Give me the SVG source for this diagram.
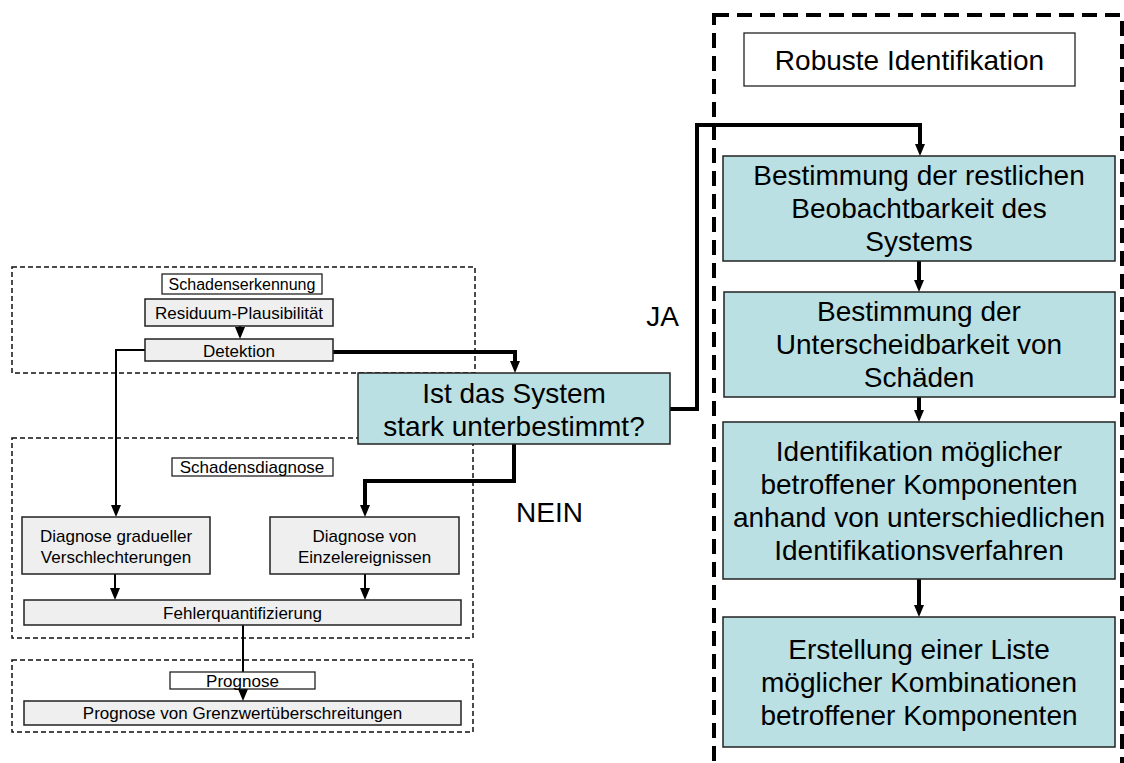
<svg xmlns="http://www.w3.org/2000/svg" width="1124" height="763" viewBox="0 0 1124 763">
<defs>
<style>
.grp{fill:none;stroke:#111;stroke-width:1.5;stroke-dasharray:5 3}
.big{fill:none;stroke:#000;stroke-width:4;stroke-dasharray:15 8}
.lbl{fill:#fff;stroke:#222;stroke-width:1.3}
.gray{fill:#efefef;stroke:#222;stroke-width:1.5}
.teal{fill:#bbe0e3;stroke:#222;stroke-width:1.5}
.t{font-family:"Liberation Sans",Arial,sans-serif;fill:#000;text-anchor:middle}
.s16{font-size:16px}.s17{font-size:17px}.s28{font-size:28px}
.thin{fill:none;stroke:#000;stroke-width:2}
.thick{fill:none;stroke:#000;stroke-width:4;stroke-linejoin:miter}
</style>
<marker id="ah" markerUnits="userSpaceOnUse" markerWidth="12" markerHeight="10" refX="2" refY="5" orient="auto">
<path d="M0,0 L12,5 L0,10 z" fill="#000"/>
</marker>
</defs>
<rect width="1124" height="763" fill="#fff"/>
<g id="groups">
<rect class="grp" x="12" y="267" width="463" height="106"/>
<rect class="grp" x="12" y="438" width="461" height="200"/>
<rect class="grp" x="12" y="660" width="461" height="72"/>
<rect class="big" x="714" y="15" width="408" height="770"/>
</g>
<g id="connectors">
<path class="thin" d="M240,326 V329" marker-end="url(#ah)"/>
<path class="thin" d="M145,350 H116 V507" marker-end="url(#ah)"/>
<path class="thin" d="M115,574 V590" marker-end="url(#ah)"/>
<path class="thin" d="M365,574 V590" marker-end="url(#ah)"/>
<path class="thin" d="M243,625 V691" marker-end="url(#ah)"/>
<path class="thick" d="M333,352 H515 V363" marker-end="url(#ah)"/>
<path class="thick" d="M670,409 H697 V125 H920 V146" marker-end="url(#ah)"/>
<path class="thick" d="M514,444 V481 H365 V507" marker-end="url(#ah)"/>
<path class="thick" d="M919,261 V282" marker-end="url(#ah)"/>
<path class="thick" d="M919,397 V412" marker-end="url(#ah)"/>
<path class="thick" d="M919,579 V607" marker-end="url(#ah)"/>
</g>
<g id="schadenserkennung">
<rect class="lbl" x="162" y="274" width="160" height="20"/>
<text class="t s16" x="242" y="290">Schadenserkennung</text>
</g>
<g id="residuum">
<rect class="gray" x="145" y="299" width="188" height="27"/>
<text class="t s17" x="239" y="319">Residuum-Plausibilität</text>
</g>
<g id="detektion">
<rect class="gray" x="145" y="339" width="188" height="22"/>
<text class="t s17" x="239" y="357">Detektion</text>
</g>
<g id="schadensdiagnose">
<rect class="lbl" x="172" y="458" width="161" height="18"/>
<text class="t s17" x="252" y="473">Schadensdiagnose</text>
</g>
<g id="diag-grad">
<rect class="gray" x="22" y="517" width="188" height="57"/>
<text class="t s17" x="116" y="542">Diagnose gradueller</text>
<text class="t s17" x="116" y="563">Verschlechterungen</text>
</g>
<g id="diag-einzel">
<rect class="gray" x="270" y="517" width="189" height="57"/>
<text class="t s17" x="364.5" y="542">Diagnose von</text>
<text class="t s17" x="364.5" y="563">Einzelereignissen</text>
</g>
<g id="fehlerquant">
<rect class="gray" x="24" y="600" width="437" height="25"/>
<text class="t s17" x="242.5" y="619">Fehlerquantifizierung</text>
</g>
<g id="prognose">
<rect class="lbl" x="170" y="672" width="145" height="17"/>
<text class="t s17" x="242.5" y="687">Prognose</text>
</g>
<g id="prognose-grenz">
<rect class="gray" x="24" y="701" width="437" height="24"/>
<text class="t s17" x="242.5" y="719">Prognose von Grenzwertüberschreitungen</text>
</g>
<g id="decision">
<rect class="teal" x="358" y="373" width="312" height="71"/>
<text class="t s28" x="514" y="403">Ist das System</text>
<text class="t s28" x="514" y="436">stark unterbestimmt?</text>
</g>
<g id="label-ja"><text class="t s28" x="662.5" y="326">JA</text></g>
<g id="label-nein"><text class="t s28" x="549.5" y="522">NEIN</text></g>
<g id="robuste">
<rect class="lbl" x="744" y="33" width="331" height="53"/>
<text class="t s28" x="909.5" y="70">Robuste Identifikation</text>
</g>
<g id="box1">
<rect class="teal" x="723" y="156" width="392" height="105"/>
<text class="t s28" x="919" y="185">Bestimmung der restlichen</text>
<text class="t s28" x="919" y="218">Beobachtbarkeit des</text>
<text class="t s28" x="919" y="251">Systems</text>
</g>
<g id="box2">
<rect class="teal" x="724" y="292" width="391" height="105"/>
<text class="t s28" x="919" y="321">Bestimmung der</text>
<text class="t s28" x="919" y="354">Unterscheidbarkeit von</text>
<text class="t s28" x="919" y="387">Schäden</text>
</g>
<g id="box3">
<rect class="teal" x="723" y="422" width="392" height="157"/>
<text class="t s28" x="919" y="461">Identifikation möglicher</text>
<text class="t s28" x="919" y="494">betroffener Komponenten</text>
<text class="t s28" x="919" y="527">anhand von unterschiedlichen</text>
<text class="t s28" x="919" y="560">Identifikationsverfahren</text>
</g>
<g id="box4">
<rect class="teal" x="723" y="617" width="392" height="130"/>
<text class="t s28" x="919" y="659">Erstellung einer Liste</text>
<text class="t s28" x="919" y="692">möglicher Kombinationen</text>
<text class="t s28" x="919" y="725">betroffener Komponenten</text>
</g>
</svg>
